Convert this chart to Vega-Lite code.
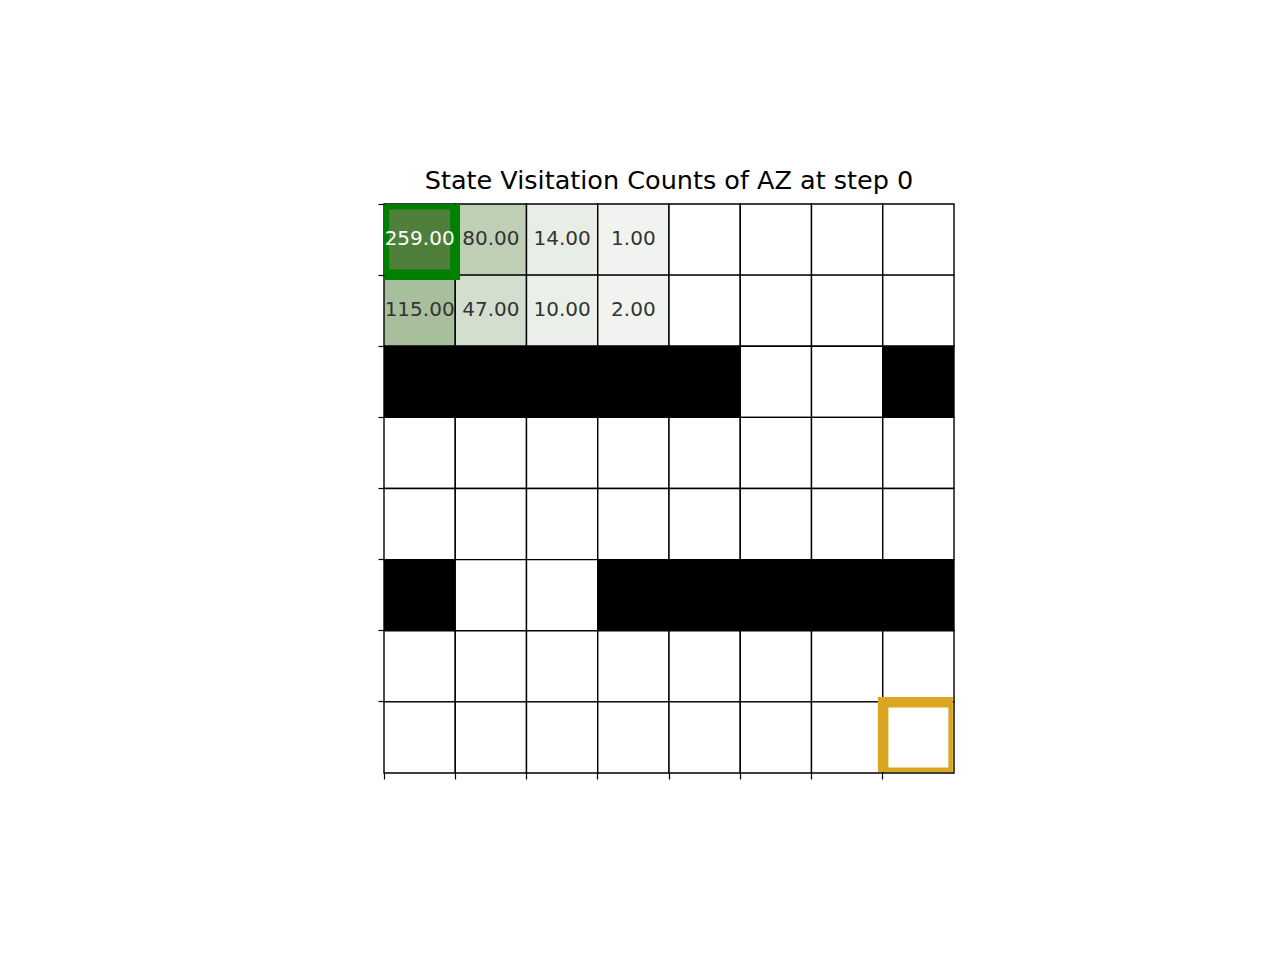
{
  "$schema": "https://vega.github.io/schema/vega-lite/v6.json",
  "width": 570,
  "height": 569,
  "autosize": {"type": "none"},
  "padding": {"left": 384, "top": 204, "right": 326, "bottom": 187},
  "background": "white",
  "title": {"text": "State Visitation Counts of AZ at step 0", "font": "DejaVu Sans", "fontSize": 25.5, "fontWeight": "normal", "color": "#000000", "offset": 9, "anchor": "middle"},
  "config": {"view": {"stroke": null}},
  "data": {"values": [
    {"row":0,"col":0,"count":259,"wall":0,"marker":"start"},
    {"row":0,"col":1,"count":80,"wall":0,"marker":""},
    {"row":0,"col":2,"count":14,"wall":0,"marker":""},
    {"row":0,"col":3,"count":1,"wall":0,"marker":""},
    {"row":0,"col":4,"count":0,"wall":0,"marker":""},
    {"row":0,"col":5,"count":0,"wall":0,"marker":""},
    {"row":0,"col":6,"count":0,"wall":0,"marker":""},
    {"row":0,"col":7,"count":0,"wall":0,"marker":""},
    {"row":1,"col":0,"count":115,"wall":0,"marker":""},
    {"row":1,"col":1,"count":47,"wall":0,"marker":""},
    {"row":1,"col":2,"count":10,"wall":0,"marker":""},
    {"row":1,"col":3,"count":2,"wall":0,"marker":""},
    {"row":1,"col":4,"count":0,"wall":0,"marker":""},
    {"row":1,"col":5,"count":0,"wall":0,"marker":""},
    {"row":1,"col":6,"count":0,"wall":0,"marker":""},
    {"row":1,"col":7,"count":0,"wall":0,"marker":""},
    {"row":2,"col":0,"count":0,"wall":1,"marker":""},
    {"row":2,"col":1,"count":0,"wall":1,"marker":""},
    {"row":2,"col":2,"count":0,"wall":1,"marker":""},
    {"row":2,"col":3,"count":0,"wall":1,"marker":""},
    {"row":2,"col":4,"count":0,"wall":1,"marker":""},
    {"row":2,"col":5,"count":0,"wall":0,"marker":""},
    {"row":2,"col":6,"count":0,"wall":0,"marker":""},
    {"row":2,"col":7,"count":0,"wall":1,"marker":""},
    {"row":3,"col":0,"count":0,"wall":0,"marker":""},
    {"row":3,"col":1,"count":0,"wall":0,"marker":""},
    {"row":3,"col":2,"count":0,"wall":0,"marker":""},
    {"row":3,"col":3,"count":0,"wall":0,"marker":""},
    {"row":3,"col":4,"count":0,"wall":0,"marker":""},
    {"row":3,"col":5,"count":0,"wall":0,"marker":""},
    {"row":3,"col":6,"count":0,"wall":0,"marker":""},
    {"row":3,"col":7,"count":0,"wall":0,"marker":""},
    {"row":4,"col":0,"count":0,"wall":0,"marker":""},
    {"row":4,"col":1,"count":0,"wall":0,"marker":""},
    {"row":4,"col":2,"count":0,"wall":0,"marker":""},
    {"row":4,"col":3,"count":0,"wall":0,"marker":""},
    {"row":4,"col":4,"count":0,"wall":0,"marker":""},
    {"row":4,"col":5,"count":0,"wall":0,"marker":""},
    {"row":4,"col":6,"count":0,"wall":0,"marker":""},
    {"row":4,"col":7,"count":0,"wall":0,"marker":""},
    {"row":5,"col":0,"count":0,"wall":1,"marker":""},
    {"row":5,"col":1,"count":0,"wall":0,"marker":""},
    {"row":5,"col":2,"count":0,"wall":0,"marker":""},
    {"row":5,"col":3,"count":0,"wall":1,"marker":""},
    {"row":5,"col":4,"count":0,"wall":1,"marker":""},
    {"row":5,"col":5,"count":0,"wall":1,"marker":""},
    {"row":5,"col":6,"count":0,"wall":1,"marker":""},
    {"row":5,"col":7,"count":0,"wall":1,"marker":""},
    {"row":6,"col":0,"count":0,"wall":0,"marker":""},
    {"row":6,"col":1,"count":0,"wall":0,"marker":""},
    {"row":6,"col":2,"count":0,"wall":0,"marker":""},
    {"row":6,"col":3,"count":0,"wall":0,"marker":""},
    {"row":6,"col":4,"count":0,"wall":0,"marker":""},
    {"row":6,"col":5,"count":0,"wall":0,"marker":""},
    {"row":6,"col":6,"count":0,"wall":0,"marker":""},
    {"row":6,"col":7,"count":0,"wall":0,"marker":""},
    {"row":7,"col":0,"count":0,"wall":0,"marker":""},
    {"row":7,"col":1,"count":0,"wall":0,"marker":""},
    {"row":7,"col":2,"count":0,"wall":0,"marker":""},
    {"row":7,"col":3,"count":0,"wall":0,"marker":""},
    {"row":7,"col":4,"count":0,"wall":0,"marker":""},
    {"row":7,"col":5,"count":0,"wall":0,"marker":""},
    {"row":7,"col":6,"count":0,"wall":0,"marker":""},
    {"row":7,"col":7,"count":0,"wall":0,"marker":"goal"}
  ]},
  "encoding": {
    "x": {"field": "col", "type": "ordinal", "scale": {"paddingInner": 0, "paddingOuter": 0},
          "axis": {"bandPosition": 0, "labels": false, "title": null, "domain": false, "grid": false, "ticks": true, "tickColor": "#000000", "tickWidth": 1.2, "tickSize": 6}},
    "y": {"field": "row", "type": "ordinal", "scale": {"paddingInner": 0, "paddingOuter": 0},
          "axis": {"bandPosition": 0, "labels": false, "title": null, "domain": false, "grid": false, "ticks": true, "tickColor": "#000000", "tickWidth": 1.2, "tickSize": 6}}
  },
  "layer": [
    {
      "mark": {"type": "rect", "stroke": "#000000", "strokeWidth": 1.4},
      "encoding": {
        "fill": {
          "condition": [
            {"test": "datum.wall == 1", "value": "#000000"},
            {"test": "datum.count == 0", "value": "#ffffff"}
          ],
          "field": "count", "type": "quantitative",
          "scale": {"domain": [1, 259], "range": ["#f1f3f0", "#4f7f3a"]},
          "legend": null
        }
      }
    },
    {
      "transform": [{"filter": "datum.marker == 'start'"}],
      "mark": {"type": "rect", "fill": "#008000", "width": 76, "height": 76, "xOffset": 2.4, "yOffset": 2.4},
      "encoding": {}
    },
    {
      "transform": [{"filter": "datum.marker == 'start'"}],
      "mark": {"type": "rect", "width": 61, "height": 60},
      "encoding": {
        "fill": {"field": "count", "type": "quantitative", "scale": {"domain": [1, 259], "range": ["#f1f3f0", "#4f7f3a"]}, "legend": null}
      }
    },
    {
      "transform": [{"filter": "datum.marker == 'goal'"}],
      "mark": {"type": "rect", "fill": "#daa520", "width": 75, "height": 75, "xOffset": -3, "yOffset": -3},
      "encoding": {}
    },
    {
      "transform": [{"filter": "datum.marker == 'goal'"}],
      "mark": {"type": "rect", "fill": "#ffffff", "width": 60, "height": 60},
      "encoding": {}
    },
    {
      "transform": [{"filter": "datum.count > 0"}],
      "mark": {"type": "text", "font": "DejaVu Sans", "fontSize": 20, "baseline": "middle", "align": "center", "dy": -1},
      "encoding": {
        "text": {"field": "count", "type": "quantitative", "format": ".2f"},
        "color": {"condition": {"test": "datum.count > 200", "value": "#ffffff"}, "value": "#333333"}
      }
    }
  ]
}
